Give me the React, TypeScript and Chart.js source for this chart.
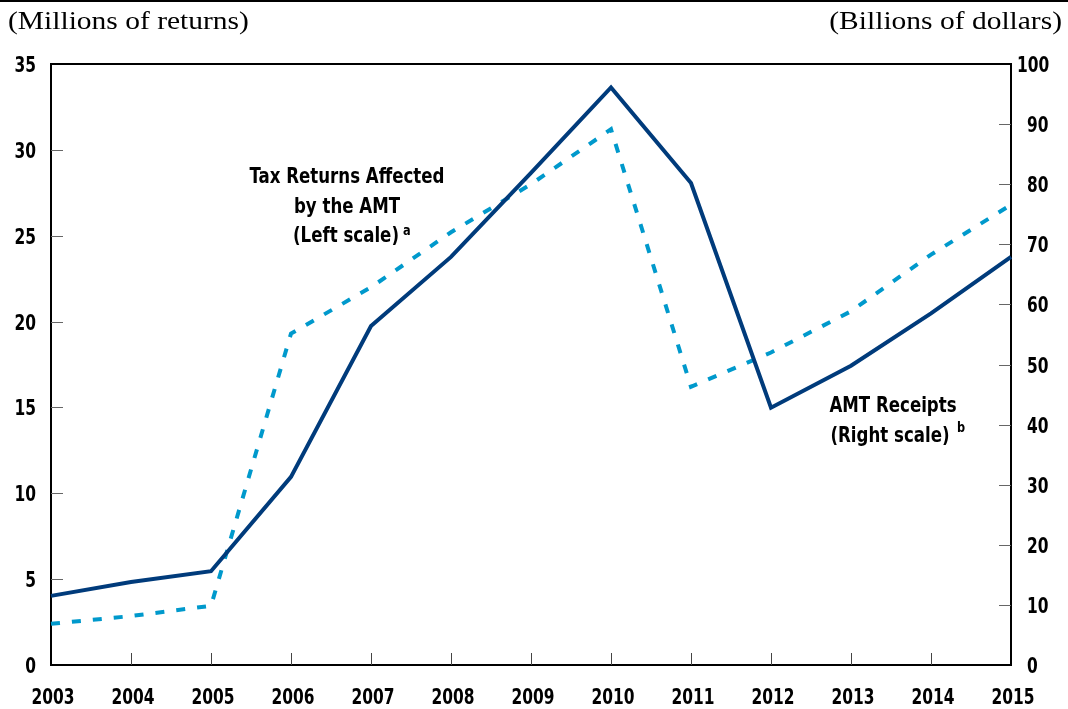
import React, { useEffect, useRef } from "react";
import { Chart, registerables } from "chart.js";

Chart.register(...registerables);

const years = ["2003", "2004", "2005", "2006", "2007", "2008", "2009", "2010", "2011", "2012", "2013", "2014", "2015"];
// Tax returns affected by the AMT (millions, left scale)
const returnsAffected = [2.4, 2.85, 3.45, 19.3, 22.0, 25.2, 28.0, 31.2, 16.2, 18.2, 20.6, 23.9, 26.8];
// AMT receipts (billions of dollars, right scale)
const amtReceipts = [11.5, 13.8, 15.6, 31.3, 56.4, 67.9, 81.9, 96.1, 80.2, 42.8, 49.8, 58.5, 67.9];

const leftTicks = [0, 5, 10, 15, 20, 25, 30, 35];
const rightTicks = [0, 10, 20, 30, 40, 50, 60, 70, 80, 90, 100];

const SANS = "'DejaVu Sans Condensed', 'DejaVu Sans', sans-serif";
const SERIF = "'Liberation Serif', 'Times New Roman', serif";

function drawText(ctx: CanvasRenderingContext2D, text: string, x: number, y: number, align: CanvasTextAlign, sx: number) {
  ctx.save();
  ctx.translate(x, y);
  ctx.scale(sx, 1);
  ctx.textAlign = align;
  ctx.textBaseline = "alphabetic";
  ctx.fillText(text, 0, 0);
  ctx.restore();
}

const decorPlugin = {
  id: "decor",
  afterDraw(chart: any) {
    const ctx: CanvasRenderingContext2D = chart.ctx;
    const area = chart.chartArea;
    const xs = chart.scales.x;
    const yl = chart.scales.y;
    const yr = chart.scales.y1;
    ctx.save();
    // page top rule
    ctx.fillStyle = "#000";
    ctx.fillRect(0, 0, chart.width, 2);
    // top border of plot
    ctx.strokeStyle = "#000";
    ctx.lineWidth = 2;
    ctx.beginPath();
    ctx.moveTo(area.left - 1, area.top);
    ctx.lineTo(area.right + 1, area.top);
    ctx.stroke();
    // inward ticks
    ctx.strokeStyle = "#444";
    ctx.lineWidth = 1;
    years.forEach((_, i) => {
      if (i === 0 || i === years.length - 1) return;
      const x = Math.round(xs.getPixelForValue(i)) + 0.5;
      ctx.beginPath();
      ctx.moveTo(x, area.bottom);
      ctx.lineTo(x, area.bottom - 12);
      ctx.stroke();
    });
    ctx.strokeStyle = "#666";
    leftTicks.forEach((v) => {
      if (v === 0 || v === 35) return;
      const y = Math.round(yl.getPixelForValue(v)) + 0.5;
      ctx.beginPath();
      ctx.moveTo(area.left, y);
      ctx.lineTo(area.left + 12, y);
      ctx.stroke();
    });
    rightTicks.forEach((v) => {
      if (v === 0 || v === 100) return;
      const y = Math.round(yr.getPixelForValue(v)) + 0.5;
      ctx.beginPath();
      ctx.moveTo(area.right, y);
      ctx.lineTo(area.right - 12, y);
      ctx.stroke();
    });
    // tick labels (condensed bold)
    ctx.fillStyle = "#000";
    ctx.font = `bold 22px ${SANS}`;
    const sx = 0.78;
    years.forEach((lab, i) => {
      drawText(ctx, lab, xs.getPixelForValue(i) + 2, 704, "center", sx);
    });
    leftTicks.forEach((v) => {
      drawText(ctx, String(v), area.left - 15, yl.getPixelForValue(v) + 8, "right", sx);
    });
    rightTicks.forEach((v) => {
      const s = String(v);
      const x = s.length > 2 ? area.right + 6 : area.right + 16;
      drawText(ctx, s, x, yr.getPixelForValue(v) + 8, "left", sx);
    });
    // axis unit titles
    ctx.font = `25px ${SERIF}`;
    drawText(ctx, "(Millions of returns)", 8, 29, "left", 1.18);
    drawText(ctx, "(Billions of dollars)", 1062, 29, "right", 1.18);
    // annotations
    ctx.font = `bold 21px ${SANS}`;
    const ax = 0.88;
    drawText(ctx, "Tax Returns Affected", 347, 183, "center", ax);
    drawText(ctx, "by the AMT", 347, 213, "center", ax);
    drawText(ctx, "(Left scale)", 346, 242, "center", ax);
    drawText(ctx, "AMT Receipts", 893, 412, "center", ax);
    drawText(ctx, "(Right scale)", 890, 442, "center", ax);
    ctx.font = `bold 14px ${SANS}`;
    drawText(ctx, "a", 403, 235, "left", 0.9);
    drawText(ctx, "b", 957, 432, "left", 0.9);
    ctx.restore();
  },
};

export default function App() {
  const ref = useRef<HTMLCanvasElement | null>(null);
  useEffect(() => {
    document.body.style.margin = "0";
    if (!ref.current) return;
    const chart = new Chart(ref.current, {
      type: "line",
      data: {
        labels: years,
        datasets: [
          {
            label: "AMT Receipts",
            data: amtReceipts,
            yAxisID: "y1",
            borderColor: "#003B7B",
            borderWidth: 4,
            pointRadius: 0,
            tension: 0,
            borderJoinStyle: "miter",
          },
          {
            label: "Tax Returns Affected by the AMT",
            data: returnsAffected,
            yAxisID: "y",
            borderColor: "#0099CC",
            borderWidth: 4,
            borderDash: [9, 12],
            pointRadius: 0,
            tension: 0,
            borderCapStyle: "butt",
          },
        ],
      },
      options: {
        animation: false,
        responsive: false,
        maintainAspectRatio: false,
        layout: { padding: { top: 64, left: 0, right: 0, bottom: 0 } },
        plugins: { legend: { display: false }, tooltip: { enabled: false } },
        scales: {
          x: {
            type: "category",
            offset: false,
            grid: { display: false, drawTicks: false },
            border: { display: true, color: "#000", width: 2 },
            ticks: { display: false, autoSkip: false },
            afterFit: (s: any) => { s.height = 44; },
          },
          y: {
            position: "left",
            min: 0,
            max: 35,
            grid: { display: false, drawTicks: false },
            border: { display: true, color: "#000", width: 2 },
            afterBuildTicks: (s: any) => { s.ticks = leftTicks.map((v) => ({ value: v })); },
            ticks: { display: false },
            afterFit: (s: any) => { s.width = 51; },
          },
          y1: {
            position: "right",
            min: 0,
            max: 100,
            grid: { display: false, drawTicks: false },
            border: { display: true, color: "#000", width: 2 },
            afterBuildTicks: (s: any) => { s.ticks = rightTicks.map((v) => ({ value: v })); },
            ticks: { display: false },
            afterFit: (s: any) => { s.width = 57; },
          },
        },
      },
      plugins: [decorPlugin],
    } as any);
    return () => chart.destroy();
  }, []);
  return (
    <div style={{ position: "absolute", left: 0, top: 0, width: 1068, height: 709, background: "#fff" }}>
      <canvas ref={ref} width={1068} height={709} style={{ display: "block", width: 1068, height: 709 }} />
    </div>
  );
}
